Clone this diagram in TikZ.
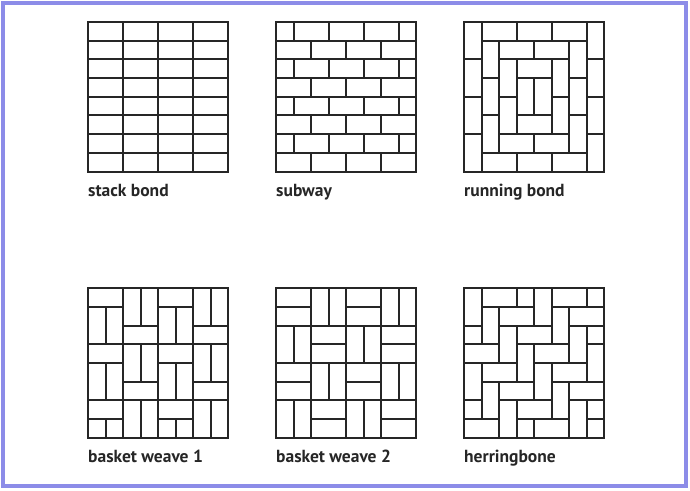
\documentclass[tikz,border=0pt]{standalone}
\usepackage{fontspec}
\usepackage{tikz}
\usetikzlibrary{positioning}
\newfontfamily\lblfont{PT Sans}
\definecolor{ink}{HTML}{262626}
\definecolor{rim}{RGB}{140,140,232}

\begin{document}
\begin{tikzpicture}[
    x=1pt, y=-1pt,
    panel/.style={draw=ink, line width=2pt, inner sep=0pt, outer sep=0pt,
                  minimum width=140pt, minimum height=149.5pt},
    brick/.style={draw=ink, line width=2pt},
    unitgrid/.style={x=17.5pt, y=-18.69pt},
    lbl/.style={anchor=base west, inner sep=0pt,
                font=\lblfont\bfseries\fontsize{17.5}{21}\selectfont, text=ink}
]
\useasboundingbox (0,0) rectangle (690,490);
\draw[rim, line width=3.5pt] (3,3) rectangle (686,486);

% 6つの枠
\node[panel] (stack) at (158, 96.75) {};
\node[panel] (subway) at (346, 96.75) {};
\node[panel] (running) at (534, 96.75) {};
\node[panel] (weaveA) at (158, 363) {};
\node[panel] (weaveB) at (346, 363) {};
\node[panel] (herring) at (534, 363) {};

% stack bond
\begin{scope}[shift={(stack.north west)}, unitgrid, brick]
  \foreach \x in {2,4,6} \draw (\x,0) -- (\x,8);
  \foreach \y in {1,...,7} \draw (0,\y) -- (8,\y);
\end{scope}

% subway
\begin{scope}[shift={(subway.north west)}, unitgrid, brick]
  \foreach \y in {1,...,7} \draw (0,\y) -- (8,\y);
  \foreach \y in {0,2,4,6} {
    \foreach \x in {1,3,5,7} \draw (\x,\y) -- (\x,\y+1);
    \foreach \x in {2,4,6} \draw (\x,\y+1) -- (\x,\y+2);
  }
\end{scope}

% running bond
\begin{scope}[shift={(running.north west)}, unitgrid, brick]
  \foreach \y in {0,2,4,6} {\draw (0,\y) rectangle ++(1,2); \draw (7,\y) rectangle ++(1,2);}
  \foreach \x in {1,3,5} {\draw (\x,0) rectangle ++(2,1); \draw (\x,7) rectangle ++(2,1);}
  \foreach \y in {1,3,5} {\draw (1,\y) rectangle ++(1,2); \draw (6,\y) rectangle ++(1,2);}
  \foreach \x in {2,4} {\draw (\x,1) rectangle ++(2,1); \draw (\x,6) rectangle ++(2,1);}
  \foreach \y in {2,4} {\draw (2,\y) rectangle ++(1,2); \draw (5,\y) rectangle ++(1,2);}
  \draw (3,2) rectangle ++(2,1);
  \draw (3,5) rectangle ++(2,1);
  \draw (3,3) rectangle ++(1,2);
  \draw (4,3) rectangle ++(1,2);
\end{scope}

% basket weave 1
\begin{scope}[shift={(weaveA.north west)}, unitgrid, brick]
  \clip (0,0) rectangle (8,8);
  \foreach \c/\o in {0/0, 2/2, 4/0, 6/2}
    \foreach \m in {-1,0,1,2} {
      \draw (\c,3*\m+\o) rectangle ++(2,1);
      \draw (\c,3*\m+\o+1) rectangle ++(1,2);
      \draw (\c+1,3*\m+\o+1) rectangle ++(1,2);
    }
\end{scope}

% basket weave 2
\begin{scope}[shift={(weaveB.north west)}, unitgrid, brick]
  \foreach \x/\y in {0/0, 4/0, 2/2, 6/2, 0/4, 4/4, 2/6, 6/6} {
    \draw (\x,\y) rectangle ++(2,1);
    \draw (\x,\y+1) rectangle ++(2,1);
  }
  \foreach \x/\y in {2/0, 6/0, 0/2, 4/2, 2/4, 6/4, 0/6, 4/6} {
    \draw (\x,\y) rectangle ++(1,2);
    \draw (\x+1,\y) rectangle ++(1,2);
  }
\end{scope}

% herringbone
\begin{scope}[shift={(herring.north west)}, unitgrid, brick]
  \clip (0,0) rectangle (8,8);
  \foreach \s in {-8,-4,0,4,8}
    \foreach \k in {-1,...,7} {
      \draw (\s+\k,\k) rectangle ++(1,2);
      \draw (\s+\k+1,\k) rectangle ++(2,1);
    }
\end{scope}

% ラベル
\node[lbl] (lstack) at (88,196) {stack bond};
\node[lbl] (lsubway) at (276,196) {subway};
\node[lbl] (lrunning) at (464,196) {running bond};
\node[lbl] (lweaveA) at (88,462) {basket weave 1};
\node[lbl] (lweaveB) at (276,462) {basket weave 2};
\node[lbl] (lherring) at (464,462) {herringbone};

\end{tikzpicture}
\end{document}
